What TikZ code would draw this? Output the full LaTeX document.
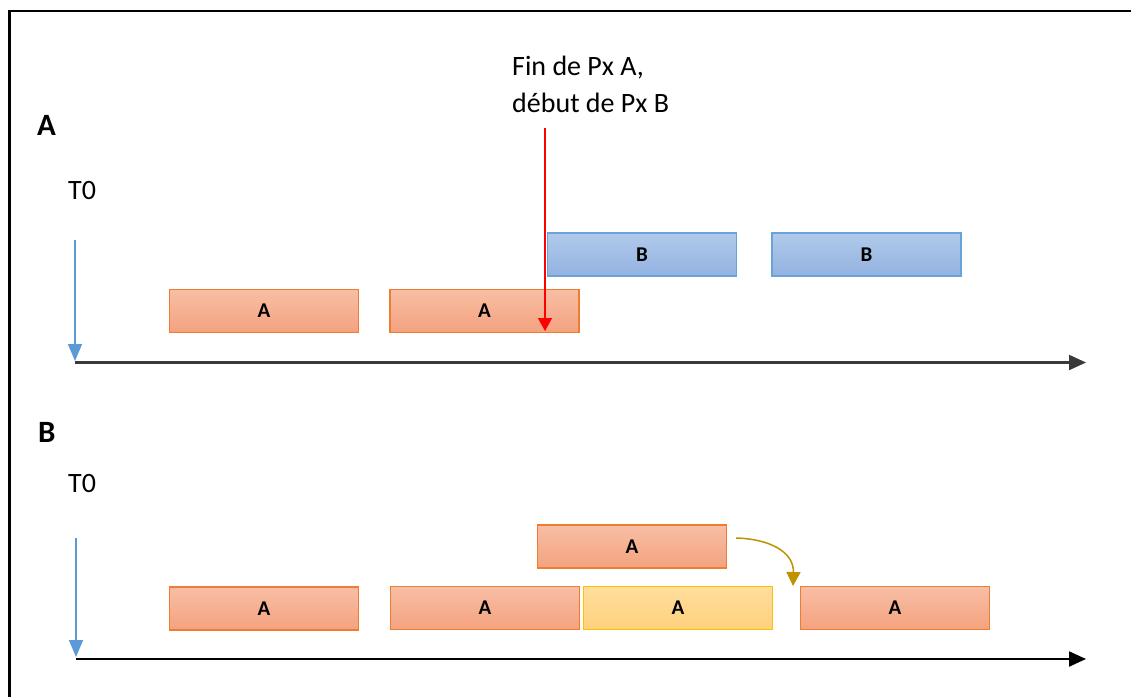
\documentclass[tikz,border=0pt]{standalone}
\usepackage{fontspec}
\setmainfont{Carlito}
\usetikzlibrary{arrows.meta}

\definecolor{orangeedge}{HTML}{ED7D31}
\definecolor{orangetop}{HTML}{F8BEA5}
\definecolor{orangebot}{HTML}{F4A27E}
\definecolor{blueedge}{HTML}{6AA2DA}
\definecolor{bluetop}{HTML}{B1CAEB}
\definecolor{bluebot}{HTML}{93B2E0}
\definecolor{yellowedge}{HTML}{FFC000}
\definecolor{yellowtop}{HTML}{FFDE9E}
\definecolor{yellowbot}{HTML}{FFD17C}
\definecolor{timeblue}{HTML}{5B9BD5}
\definecolor{movegold}{HTML}{BF9000}
\definecolor{axisgray}{HTML}{3A3A3A}

\tikzset{
  bar/.style={minimum width=189pt, minimum height=43pt, inner sep=0pt,
    line width=1.3pt, font=\fontsize{21}{25}\selectfont\bfseries},
  barA/.style={bar, draw=orangeedge, top color=orangetop, bottom color=orangebot},
  barB/.style={bar, draw=blueedge, top color=bluetop, bottom color=bluebot},
  barY/.style={bar, draw=yellowedge, top color=yellowtop, bottom color=yellowbot},
  heading/.style={anchor=base west, inner sep=0pt, font=\fontsize{31}{36}\selectfont\bfseries},
  plain/.style={anchor=base west, inner sep=0pt, font=\fontsize{28}{34}\selectfont},
  timeline/.style={line width=1.6pt, timeblue, -{Triangle[length=17pt, width=14pt]}},
  axis/.style={line width=2.2pt, -{Triangle[length=17pt, width=15pt]}},
  marker/.style={line width=1.4pt, red, -{Triangle[length=13pt, width=14pt]}},
  shift arrow/.style={line width=1.5pt, movegold, -{Triangle[length=14pt, width=14pt]}}
}

\begin{document}
\begin{tikzpicture}[x=1pt, y=-1pt]
\useasboundingbox (0,0) rectangle (1131,697);

% frame
\draw[line width=2.5pt] (9.5,697) -- (9.5,11) -- (1131,11);

% ---------- part A ----------
\node[heading] (headA) at (37,135) {A};
\node[plain] (t0A) at (68,199) {T0};

\coordinate (timeStartA) at (75,240);
\coordinate (originA) at (75,361);
\coordinate (axisEndA) at (1086,362.5);
\draw[timeline] (timeStartA) -- (originA);
\draw[axis, axisgray] (75,362.5) -- (axisEndA);

\node[barA] (a1) at (264,311) {A};
\node[barA] (a2) at (484.5,311) {A};
\node[barB] (b1) at (642,254.5) {B};
\node[barB] (b2) at (866.5,254.5) {B};

\node[plain] (noteA) at (512,75) {Fin de Px A,};
\node[plain] (noteB) at (512,112) {début de Px B};
\coordinate (markTop) at (545,128);
\coordinate (markTip) at (545,331);
\draw[marker] (markTop) -- (markTip);

% ---------- part B ----------
\node[heading] (headB) at (38,442) {B};
\node[plain] (t0B) at (68,492) {T0};

\coordinate (timeStartB) at (76,538);
\coordinate (originB) at (76,657);
\coordinate (axisEndB) at (1086,659);
\draw[timeline] (timeStartB) -- (originB);
\draw[axis, black] (76,659) -- (axisEndB);

\node[barA] (c0) at (632,546.5) {A};
\node[barA] (c1) at (264,608.5) {A};
\node[barA] (c2) at (485,608) {A};
\node[barY] (c3) at (678,608) {A};
\node[barA] (c4) at (895,608) {A};

\coordinate (shiftStart) at (736,538);
\coordinate (shiftEnd) at (793,586);
\draw[shift arrow] (shiftStart) .. controls (770,539) and (794,552) .. (shiftEnd);

\end{tikzpicture}
\end{document}
